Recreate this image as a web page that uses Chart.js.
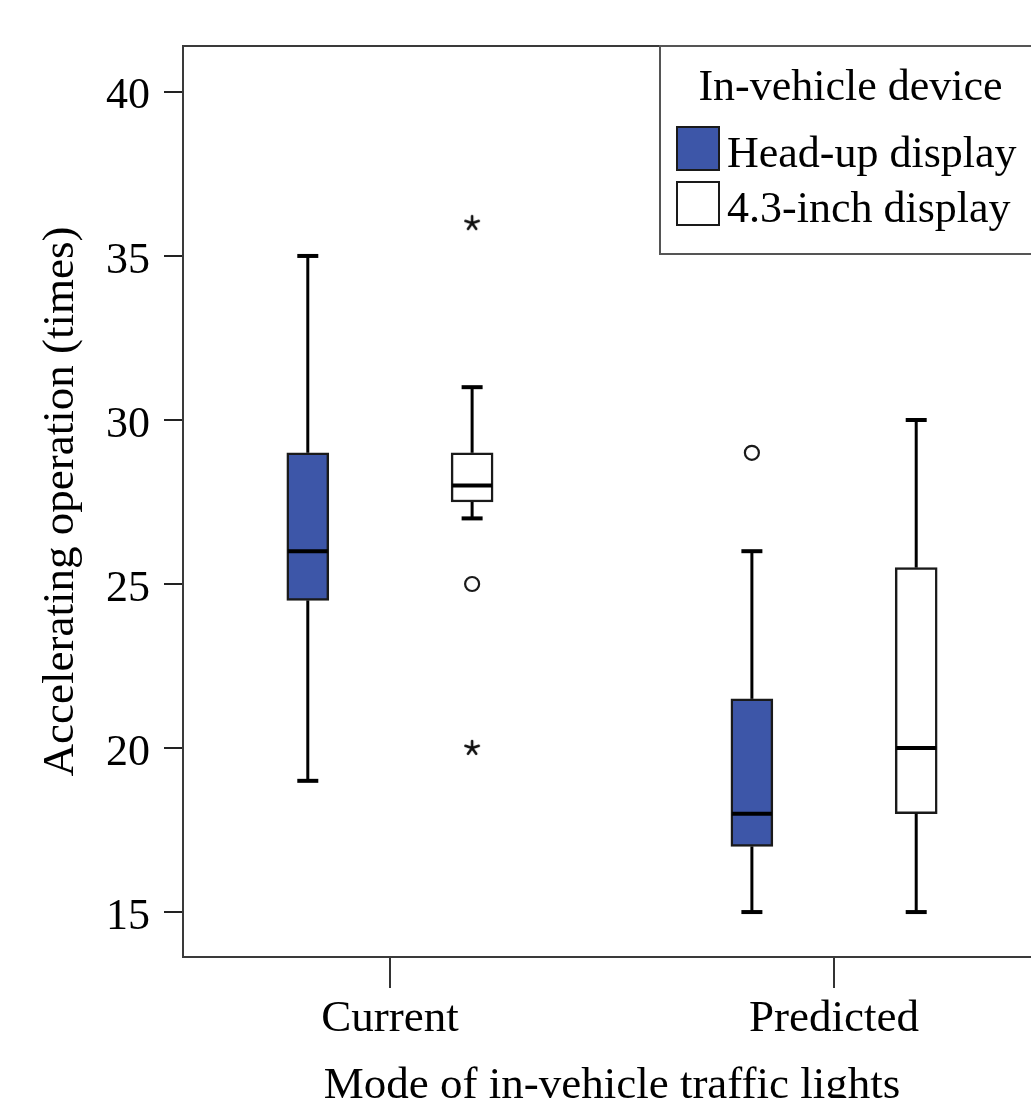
<!DOCTYPE html>
<html>
<head>
<meta charset="utf-8">
<script src="https://cdn.jsdelivr.net/npm/chart.js@4.4.0/dist/chart.umd.min.js"></script>
<style>
  html, body { margin: 0; padding: 0; overflow: hidden; background: #fff; }
  #wrap { width: 1060px; height: 1098px; }
</style>
</head>
<body>
<div id="wrap"><canvas id="boxChart" width="1060" height="1098"></canvas></div>
<script>
// ===== data =====
const categories = ["Current", "Predicted"];
const yTicks = [15, 20, 25, 30, 35, 40];

// Head-up display
const hudMin = [19, 15];
const hudQ1 = [24.5, 17];
const hudMedian = [26, 18];
const hudQ3 = [29, 21.5];
const hudMax = [35, 26];
const hudOutliers = [[], [29]];
const hudExtremes = [[], []];

// 4.3-inch display
const lcdMin = [27, 15];
const lcdQ1 = [27.5, 18];
const lcdMedian = [28, 20];
const lcdQ3 = [29, 25.5];
const lcdMax = [31, 30];
const lcdOutliers = [[25], []];
const lcdExtremes = [[36, 20], []];

const FONT = "Liberation Serif";
const HUD_BLUE = "#3d56a8";
const SHIFT = 0.185; // half distance between the two boxes of one category

const groups = [
  { label: "Head-up display", fill: HUD_BLUE, shift: -SHIFT, min: hudMin, q1: hudQ1, med: hudMedian, q3: hudQ3, max: hudMax, out: hudOutliers, ext: hudExtremes },
  { label: "4.3-inch display", fill: "#ffffff", shift: SHIFT, min: lcdMin, q1: lcdQ1, med: lcdMedian, q3: lcdQ3, max: lcdMax, out: lcdOutliers, ext: lcdExtremes },
];

// star marker for extreme values (SPSS style)
function makeStar() {
  const c = document.createElement("canvas");
  c.width = 18;
  c.height = 18;
  const g = c.getContext("2d");
  g.strokeStyle = "#111";
  g.lineWidth = 2.6;
  g.lineCap = "round";
  for (let k = 0; k < 5; k++) {
    const a = -Math.PI / 2 + (k * 2 * Math.PI) / 5;
    g.beginPath();
    g.moveTo(9, 9);
    g.lineTo(9 + 7 * Math.cos(a), 9 + 7 * Math.sin(a));
    g.stroke();
  }
  return c;
}

// ===== datasets =====
const boxSets = groups.map((g) => ({
  type: "bar",
  label: g.label,
  data: categories.map((c, i) => ({ x: i + 1 + g.shift, y: [g.q1[i], g.q3[i]] })),
  backgroundColor: g.fill,
  borderColor: "#1a1a1a",
  borderWidth: 2.5,
  borderSkipped: false,
  barThickness: 42,
  grouped: false,
}));

const circlePts = [];
const starPts = [];
groups.forEach((g) => {
  categories.forEach((c, i) => {
    g.out[i].forEach((v) => circlePts.push({ x: i + 1 + g.shift, y: v }));
    g.ext[i].forEach((v) => starPts.push({ x: i + 1 + g.shift, y: v }));
  });
});

const pointSets = [
  {
    type: "scatter",
    label: "outliers",
    data: circlePts,
    pointStyle: "circle",
    pointRadius: 7,
    pointBorderWidth: 2.2,
    pointBorderColor: "#1a1a1a",
    pointBackgroundColor: "#fff",
  },
  {
    type: "scatter",
    label: "extremes",
    data: starPts,
    pointStyle: makeStar(),
    pointRadius: 9,
  },
];

// ===== plugins =====
const framePlugin = {
  id: "frame",
  beforeDatasetsDraw(chart) {
    const { ctx, chartArea: a } = chart;
    ctx.save();
    ctx.strokeStyle = "#3a3a3a";
    ctx.lineWidth = 2;
    ctx.strokeRect(a.left, a.top, a.right - a.left, a.bottom - a.top);
    ctx.restore();
  },
};

const whiskerPlugin = {
  id: "whiskers",
  afterDatasetsDraw(chart) {
    const { ctx, scales: { x, y } } = chart;
    ctx.save();
    ctx.strokeStyle = "#000";
    groups.forEach((g) => {
      categories.forEach((c, i) => {
        const cx = x.getPixelForValue(i + 1 + g.shift);
        const line = (x1, y1, x2, y2, w) => {
          ctx.lineWidth = w;
          ctx.beginPath();
          ctx.moveTo(x1, y1);
          ctx.lineTo(x2, y2);
          ctx.stroke();
        };
        // whiskers
        line(cx, y.getPixelForValue(g.q3[i]), cx, y.getPixelForValue(g.max[i]), 3);
        line(cx, y.getPixelForValue(g.q1[i]), cx, y.getPixelForValue(g.min[i]), 3);
        // caps
        line(cx - 10.5, y.getPixelForValue(g.max[i]), cx + 10.5, y.getPixelForValue(g.max[i]), 4);
        line(cx - 10.5, y.getPixelForValue(g.min[i]), cx + 10.5, y.getPixelForValue(g.min[i]), 4);
        // median
        line(cx - 20, y.getPixelForValue(g.med[i]), cx + 20, y.getPixelForValue(g.med[i]), 4);
      });
    });
    ctx.restore();
  },
};

const legendPlugin = {
  id: "boxLegend",
  afterDraw(chart) {
    const { ctx, chartArea: a } = chart;
    const left = 660;
    const bottom = 254;
    ctx.save();
    ctx.fillStyle = "#fff";
    ctx.fillRect(left, a.top, a.right - left, bottom - a.top);
    ctx.strokeStyle = "#555";
    ctx.lineWidth = 2;
    ctx.strokeRect(left, a.top, a.right - left, bottom - a.top);

    ctx.fillStyle = "#000";
    ctx.font = `44px "${FONT}"`;
    ctx.textBaseline = "alphabetic";
    ctx.textAlign = "center";
    ctx.fillText("In-vehicle device", (left + a.right) / 2, 100);

    ctx.textAlign = "left";
    groups.forEach((g, k) => {
      const top = 127 + k * 55;
      ctx.fillStyle = g.fill;
      ctx.fillRect(677, top, 42, 43);
      ctx.strokeStyle = "#1a1a1a";
      ctx.lineWidth = 2;
      ctx.strokeRect(677, top, 42, 43);
      ctx.fillStyle = "#000";
      ctx.fillText(g.label, 727, top + 40);
    });
    ctx.restore();
  },
};

// ===== chart =====
new Chart(document.getElementById("boxChart"), {
  type: "bar",
  data: { datasets: [...boxSets, ...pointSets] },
  options: {
    responsive: false,
    animation: false,
    devicePixelRatio: 1,
    layout: { padding: { top: 46, right: 19, left: 0, bottom: 0 } },
    plugins: {
      legend: { display: false },
      tooltip: { enabled: false },
    },
    scales: {
      x: {
        type: "linear",
        min: 0.534,
        max: 2.466,
        offset: false,
        afterBuildTicks: (s) => {
          s.ticks = categories.map((c, i) => ({ value: i + 1 }));
        },
        afterFit: (s) => {
          s.height = 141;
        },
        grid: { offset: false, drawOnChartArea: false, drawTicks: true, tickLength: 31, color: "#333", lineWidth: 2 },
        border: { display: false },
        ticks: {
          autoSkip: false,
          maxRotation: 0,
          padding: 4,
          color: "#000",
          font: { family: FONT, size: 45 },
          callback: (v, i) => categories[i],
        },
        title: {
          display: true,
          text: "Mode of in-vehicle traffic lights",
          color: "#000",
          font: { family: FONT, size: 45, lineHeight: 0.6 },
          padding: { top: 0, bottom: -2 },
        },
      },
      y: {
        type: "linear",
        min: 13.63,
        max: 41.4,
        afterBuildTicks: (s) => {
          s.ticks = yTicks.map((v) => ({ value: v }));
        },
        afterFit: (s) => {
          s.width = 183;
        },
        grid: { drawOnChartArea: false, drawTicks: true, tickLength: 19, color: "#222", lineWidth: 2 },
        border: { display: false },
        ticks: {
          padding: 14,
          labelOffset: 5,
          color: "#000",
          font: { family: FONT, size: 44 },
        },
        title: {
          display: true,
          text: "Accelerating operation (times)",
          color: "#000",
          font: { family: FONT, size: 45, lineHeight: 1.2 },
          padding: { top: 34, bottom: 0 },
        },
      },
    },
  },
  plugins: [framePlugin, whiskerPlugin, legendPlugin],
});
</script>
</body>
</html>
